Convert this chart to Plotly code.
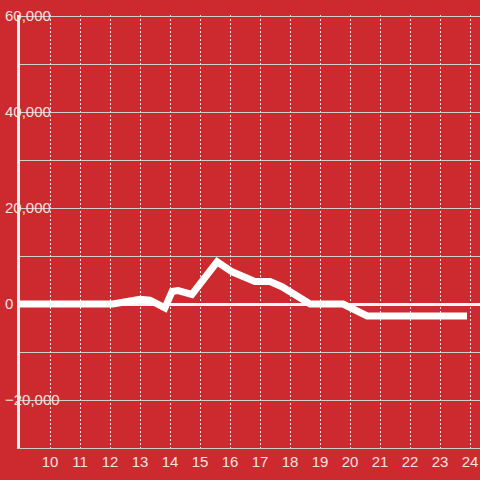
import plotly.graph_objects as go

x_vals = [9.0, 12.1, 13.0, 13.33, 13.83, 14.07, 14.27, 14.73, 15.57, 16.07, 16.83, 17.33, 17.73, 18.67, 19.77, 20.57, 23.9]
y_vals = [0, 0, 1000, 800, -800, 2600, 2800, 2000, 8800, 6700, 4700, 4700, 3600, 0, 0, -2500, -2500]
x_ticks = list(range(10, 25))
y_ticks = [-20000, 0, 20000, 40000, 60000]

bg = '#cc2a2f'
y_range = [-30000, 60210]

fig = go.Figure()
# invisible copy on y2 so the label axis gets drawn
fig.add_trace(go.Scatter(x=x_vals, y=y_vals, yaxis='y2', mode='lines', line=dict(width=0), hoverinfo='skip', showlegend=False))
fig.add_trace(go.Scatter(x=x_vals, y=y_vals, mode='lines', line=dict(color='white', width=7), showlegend=False))
fig.update_layout(width=480, height=480, paper_bgcolor=bg, plot_bgcolor=bg,
                  margin=dict(l=0, r=0, t=15, b=32),
                  font=dict(family='Liberation Sans, Arial', size=15, color='#f5e0e0'))
fig.update_xaxes(domain=[20 / 480, 1], range=[9.0, 24.333], tickvals=x_ticks, showgrid=True, gridcolor='#e6e6e6',
                 griddash='2px,2px', gridwidth=1, showline=True, linecolor='#cccccc', linewidth=1, ticks='',
                 zeroline=False, tickfont=dict(size=15))
fig.update_yaxes(range=y_range, tickvals=y_ticks, showticklabels=False, showgrid=True, gridcolor='#cfcfcf', gridwidth=1,
                 minor=dict(dtick=10000, showgrid=True, gridcolor='#cfcfcf', gridwidth=1),
                 showline=True, linecolor='#f0f0f0', linewidth=3, ticks='',
                 zeroline=True, zerolinecolor='#f5f5f5', zerolinewidth=3)
# tick labels sit over the axis line, so they go on a second axis
fig.update_layout(yaxis2=dict(overlaying='y', anchor='free', position=0, side='right', range=y_range,
                              tickvals=y_ticks, tickformat=',', showgrid=False, showline=False, zeroline=False,
                              ticks='', ticklabelstandoff=4, tickfont=dict(size=15)))
fig.write_html("out.html", config=dict(displayModeBar=False), post_script="document.body.style.margin='0';")
